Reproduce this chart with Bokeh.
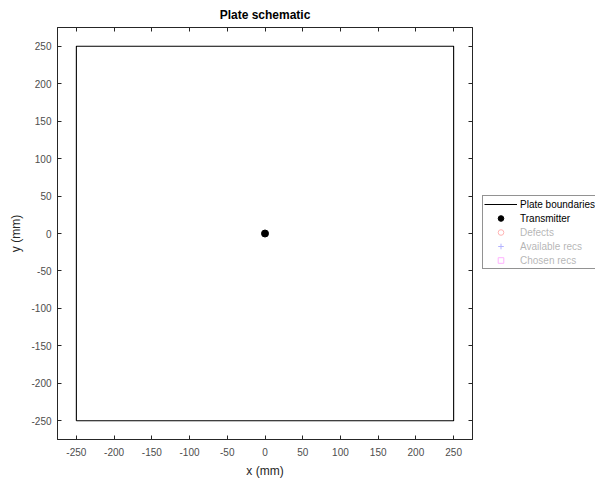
from bokeh.plotting import figure
from bokeh.layouts import row
from bokeh.models import LinearAxis, Legend, LegendItem, FixedTicker, Range1d, CustomJSTickFormatter
from bokeh.embed import file_html
from bokeh.resources import INLINE

# ---- data ----
plate_x = [-250, 250, 250, -250, -250]
plate_y = [-250, -250, 250, 250, -250]
transmitter_x = [0]
transmitter_y = [0]
defects_x = []
defects_y = []
available_x = []
available_y = []
chosen_x = []
chosen_y = []
ticks = [-250, -200, -150, -100, -50, 0, 50, 100, 150, 200, 250]

FONT = "Liberation Sans"
AX = "#262626"
LAB = "#4d4d4d"

p = figure(width=482, height=480, output_backend="svg", toolbar_location=None,
           x_range=Range1d(-275, 275), y_range=Range1d(-275, 275),
           min_border_left=57, min_border_top=25, min_border_bottom=41, min_border_right=10,
           title="Plate schematic")
p.title.align = "center"
p.title.text_font = FONT
p.title.text_font_size = "12px"
p.title.text_font_style = "bold"
p.title.text_color = "#000000"
p.title.standoff = 11

p.grid.visible = False
p.outline_line_color = AX
p.outline_line_width = 1

fmt = CustomJSTickFormatter(code="return tick.toFixed(0)")
for ax in (p.xaxis[0], p.yaxis[0]):
    ax.ticker = FixedTicker(ticks=ticks)
    ax.formatter = fmt
    ax.major_tick_in = 4
    ax.major_tick_out = 0
    ax.minor_tick_line_color = None
    ax.axis_line_color = AX
    ax.major_tick_line_color = AX
    ax.major_label_text_font = FONT
    ax.major_label_text_font_size = "10px"
    ax.major_label_text_color = LAB
    ax.axis_label_text_font = FONT
    ax.axis_label_text_font_size = "12px"
    ax.axis_label_text_font_style = "normal"
    ax.axis_label_text_color = AX

p.xaxis[0].axis_label = "x (mm)"
p.yaxis[0].axis_label = "y (mm)"
p.xaxis[0].major_label_standoff = 8
p.yaxis[0].major_label_standoff = 6
p.xaxis[0].axis_label_standoff = 5
p.yaxis[0].axis_label_standoff = 5

for loc in ("above", "right"):
    a = LinearAxis(ticker=FixedTicker(ticks=ticks),
                   major_tick_in=4, major_tick_out=0, minor_tick_line_color=None,
                   axis_line_color=AX, major_tick_line_color=AX,
                   major_label_standoff=0, major_label_text_font_size="1px",
                   major_label_text_alpha=0)
    p.add_layout(a, loc)

p.line(plate_x, plate_y, line_color="#000000", line_width=1.1)
p.scatter(transmitter_x, transmitter_y, marker="circle", size=7,
          fill_color="#000000", line_color="#000000")
p.scatter(defects_x, defects_y, marker="circle", size=7,
          fill_color=None, line_color="#ff0000")
p.scatter(available_x, available_y, marker="cross", size=8, line_color="#0000ff")
p.scatter(chosen_x, chosen_y, marker="square", size=7,
          fill_color=None, line_color="#ff00ff")

# ---- legend panel (a separate, axis-less figure holding legend key proxies) ----
q = figure(width=113, height=480, output_backend="svg", toolbar_location=None,
           x_axis_type=None, y_axis_type=None,
           x_range=Range1d(1000, 1001), y_range=Range1d(1000, 1001),
           min_border_left=0, min_border_right=0, min_border_top=0, min_border_bottom=0)
q.grid.visible = False
q.outline_line_color = None

k_plate = q.line(plate_x, plate_y, line_color="#000000", line_width=1.1)
k_tx = q.scatter(transmitter_x, transmitter_y, marker="circle", size=7,
                 fill_color="#000000", line_color="#000000")
# keys for series that are switched off (drawn faded in the legend)
k_def = q.scatter(transmitter_x, transmitter_y, marker="circle", size=7,
                  fill_color=None, line_color="#ff0000", visible=False)
k_av = q.scatter(transmitter_x, transmitter_y, marker="cross", size=8,
                 line_color="#0000ff", visible=False)
k_ch = q.scatter(transmitter_x, transmitter_y, marker="square", size=7,
                 fill_color=None, line_color="#ff00ff", visible=False)

legend = Legend(items=[
    LegendItem(label="Plate boundaries", renderers=[k_plate]),
    LegendItem(label="Transmitter", renderers=[k_tx]),
    LegendItem(label="Defects", renderers=[k_def]),
    LegendItem(label="Available recs", renderers=[k_av]),
    LegendItem(label="Chosen recs", renderers=[k_ch]),
], location=(0, 170), click_policy="hide")
legend.label_text_font = FONT
legend.label_text_font_size = "10px"
legend.label_text_color = "#000000"
legend.glyph_width = 33
legend.glyph_height = 14
legend.label_height = 14
legend.label_standoff = 3
legend.spacing = 0
legend.padding = 1
legend.margin = 0
legend.border_line_color = AX
legend.border_line_width = 1
legend.inactive_fill_alpha = 0.7
q.add_layout(legend, "center")

open("out.html", "w").write(file_html(row(p, q), INLINE))
